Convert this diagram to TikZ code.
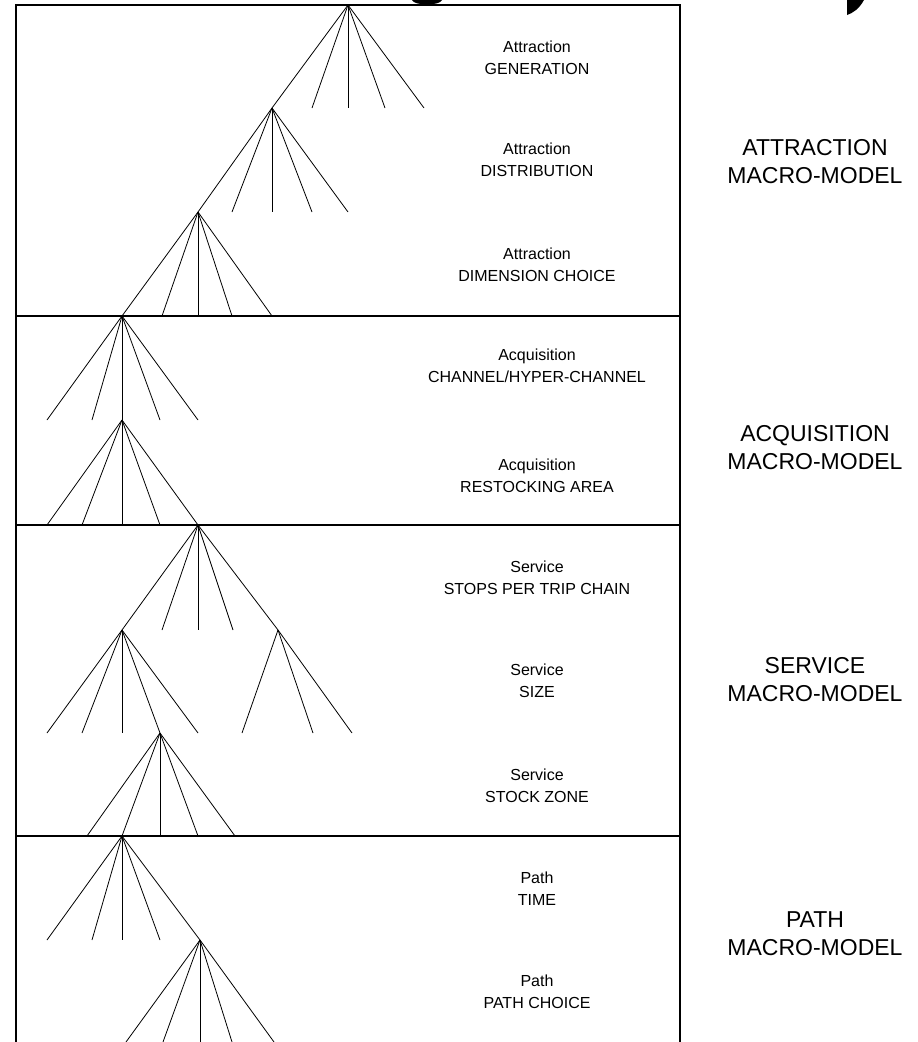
\documentclass[tikz,border=0pt]{standalone}
\usepackage{fontspec}
\setmainfont{Liberation Sans}
\begin{document}
\begin{tikzpicture}[x=1pt,y=-1pt,
  frame/.style={line width=1.2pt,black},
  branch/.style={line width=0.8pt,black},
  sublabel/.style={font=\fontsize{16}{22}\selectfont,align=center,inner sep=0pt},
  macrolabel/.style={font=\fontsize{23}{28}\selectfont,align=center,inner sep=0pt}]
\useasboundingbox (0,0) rectangle (918,1042);

% fragments of the heading above the frame
\fill (412,0) .. controls (414,6) and (440,6) .. (442,0) -- cycle;
\fill (847,0) -- (864,0) .. controls (859,9) and (853,13) .. (847,15) -- cycle;

% outer frame and section dividers
\coordinate (tl) at (16,5);
\coordinate (tr) at (680,5);
\coordinate (bl) at (16,1042);
\coordinate (br) at (680,1042);
\draw[frame] (bl) -- (tl) -- (tr) -- (br);
\foreach \yy/\w in {316/1.2, 525/1.2, 836/2}
  \draw[line width=\w pt] (16,\yy) -- (680,\yy);

% tree apexes
\coordinate (a1) at (348,5);
\coordinate (a2) at (272,108);
\coordinate (a3) at (198,212);
\coordinate (a4) at (122,316);
\coordinate (a5) at (122,420);
\coordinate (a6) at (198,525);
\coordinate (a7) at (122,630);
\coordinate (a8) at (278,630);
\coordinate (a9) at (160,733);
\coordinate (a10) at (122,836);
\coordinate (a11) at (200,940);

% attraction
\foreach \x in {312,348,385,424} \draw[branch] (a1) -- (\x,108);
\draw[branch] (a1) -- (a2);
\foreach \x in {232,272,312,348} \draw[branch] (a2) -- (\x,212);
\draw[branch] (a2) -- (a3);
\foreach \x in {162,198,232,272} \draw[branch] (a3) -- (\x,316);
\draw[branch] (a3) -- (a4);
% acquisition
\foreach \x in {47,92,160,198} \draw[branch] (a4) -- (\x,420);
\draw[branch] (a4) -- (a5);
\foreach \x in {47,82,122,160} \draw[branch] (a5) -- (\x,525);
\draw[branch] (a5) -- (a6);
% service
\foreach \x in {162,198,233} \draw[branch] (a6) -- (\x,630);
\draw[branch] (a6) -- (a7);
\draw[branch] (a6) -- (a8);
\foreach \x in {47,82,122,198} \draw[branch] (a7) -- (\x,733);
\draw[branch] (a7) -- (a9);
\foreach \x in {242,313,352} \draw[branch] (a8) -- (\x,733);
\foreach \x in {87,160,198,235} \draw[branch] (a9) -- (\x,836);
\draw[branch] (a9) -- (a10);
% path
\foreach \x in {47,92,122,160} \draw[branch] (a10) -- (\x,940);
\draw[branch] (a10) -- (a11);
\foreach \x in {126,163,200,232,274} \draw[branch] (a11) -- (\x,1042);

% level labels
\node[sublabel] (l1) at (537,58) {Attraction\\GENERATION};
\node[sublabel] (l2) at (537,160) {Attraction\\DISTRIBUTION};
\node[sublabel] (l3) at (537,265) {Attraction\\DIMENSION CHOICE};
\node[sublabel] (l4) at (537,366) {Acquisition\\CHANNEL/HYPER-CHANNEL};
\node[sublabel] (l5) at (537,476) {Acquisition\\RESTOCKING AREA};
\node[sublabel] (l6) at (537,578) {Service\\STOPS PER TRIP CHAIN};
\node[sublabel] (l7) at (537,681) {Service\\SIZE};
\node[sublabel] (l8) at (537,786) {Service\\STOCK ZONE};
\node[sublabel] (l9) at (537,889) {Path\\TIME};
\node[sublabel] (l10) at (537,992) {Path\\PATH CHOICE};

% macro-model labels
\node[macrolabel] (m1) at (815,162) {ATTRACTION\\MACRO-MODEL};
\node[macrolabel] (m2) at (815,448) {ACQUISITION\\MACRO-MODEL};
\node[macrolabel] (m3) at (815,680) {SERVICE\\MACRO-MODEL};
\node[macrolabel] (m4) at (815,934) {PATH\\MACRO-MODEL};
\end{tikzpicture}
\end{document}
